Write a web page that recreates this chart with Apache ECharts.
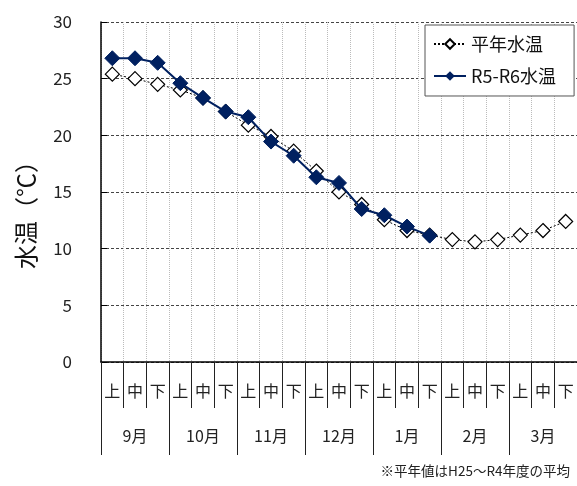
<!DOCTYPE html>
<html><head><meta charset="utf-8">
<script src="https://cdn.jsdelivr.net/npm/echarts@6/dist/echarts.min.js"></script>
<style>html,body{margin:0;padding:0;background:#fff}#c{width:577px;height:486px}</style>
</head><body><div id="c"></div>
<script>
const subLabels = ['上','中','下','上','中','下','上','中','下','上','中','下','上','中','下','上','中','下','上','中','下'];
const months = ['9月','10月','11月','12月','1月','2月','3月'];
const normalTemp = [25.4,25.0,24.5,24.0,23.3,22.1,20.9,19.9,18.6,16.85,15.0,13.9,12.55,11.6,11.2,10.8,10.6,10.8,11.2,11.6,12.4];
const r5r6Temp = [26.8,26.8,26.4,24.6,23.3,22.1,21.6,19.45,18.2,16.3,15.8,13.5,12.95,11.95,11.15];
const yTicks = {min:0, max:30, interval:5};
const font = '"Noto Sans CJK JP","Noto Sans",sans-serif';

const chart = echarts.init(document.getElementById('c'));
chart.setOption({
  animation:false,
  backgroundColor:'#fff',
  textStyle:{fontFamily:font},
  grid:{left:101, top:22, width:478, height:340, containLabel:false},
  legend:{
    orient:'vertical', left:425, top:25, padding:[10,18,11,8],
    borderColor:'#555', borderWidth:1, backgroundColor:'#fff',
    itemWidth:32, itemHeight:12, itemGap:14,
    textStyle:{fontSize:18, color:'#111', fontFamily:font},
    data:['平年水温','R5-R6水温']
  },
  xAxis:[{
    type:'category', data:subLabels, position:'bottom', boundaryGap:true,
    axisLine:{show:true, lineStyle:{color:'#000', width:1.5}},
    axisTick:{show:true, interval:0, length:46, lineStyle:{color:'#222', width:1}},
    axisLabel:{interval:0, margin:21, fontSize:16, color:'#222', fontFamily:font},
    splitLine:{show:true, interval:0, lineStyle:{color:'#bbb', type:'dotted', width:1}}
  },{
    type:'category', data:months, position:'bottom', boundaryGap:true,
    axisLine:{show:false},
    axisTick:{show:true, interval:0, length:93, lineStyle:{color:'#222', width:1}},
    axisLabel:{interval:0, margin:66, fontSize:16, color:'#222', fontFamily:font},
    splitLine:{show:false}
  }],
  yAxis:{
    type:'value', min:yTicks.min, max:yTicks.max, interval:yTicks.interval,
    axisLine:{show:true, lineStyle:{color:'#000', width:1.5}},
    axisTick:{show:true, inside:true, length:6, lineStyle:{color:'#000'}},
    axisLabel:{margin:29, fontSize:17, color:'#222', fontFamily:font},
    splitLine:{show:true, lineStyle:{color:'#444', type:[3,2], width:1}}
  },
  graphic:[{
    type:'text', x:26, y:209, rotation:Math.PI/2,
    style:{text:'水温（℃）', font:'24px '+font, fill:'#111', textAlign:'center', textVerticalAlign:'middle'}
  },{
    type:'text', right:7, top:464,
    style:{text:'※平年値はH25～R4年度の平均', font:'13.5px '+font, fill:'#222'}
  }],
  series:[{
    name:'平年水温', type:'line', data:normalTemp, xAxisIndex:0,
    symbol:'diamond', symbolSize:14, showAllSymbol:true,
    lineStyle:{color:'#000', width:1, type:[2,2]},
    itemStyle:{color:'#fff', borderColor:'#000', borderWidth:1.2},
    z:2
  },{
    name:'R5-R6水温', type:'line', data:r5r6Temp, xAxisIndex:0,
    symbol:'diamond', symbolSize:15, showAllSymbol:true,
    lineStyle:{color:'#002060', width:2},
    itemStyle:{color:'#002060', borderColor:'#002060'},
    z:3
  }]
});
</script></body></html>
